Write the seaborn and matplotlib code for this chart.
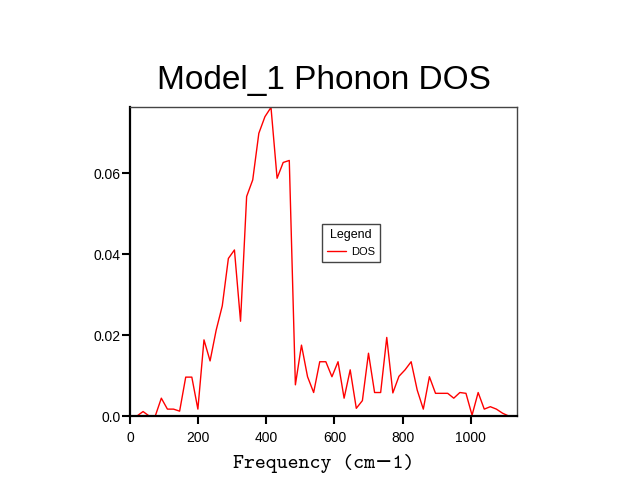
import numpy as np
import pandas as pd
import seaborn as sns
import matplotlib.pyplot as plt

# data
freq = [20.5, 38.4, 56.3, 74.2, 92.0, 109.9, 127.8, 145.7, 163.6, 181.5,
        199.3, 217.2, 235.1, 253.0, 270.9, 288.8, 306.6, 324.5, 342.4, 360.3,
        378.2, 396.1, 413.9, 431.8, 449.7, 467.6, 485.5, 503.4, 521.2, 539.1,
        557.0, 574.9, 592.8, 610.7, 628.5, 646.4, 664.3, 682.2, 700.1, 718.0,
        735.8, 753.7, 771.6, 789.5, 807.4, 825.3, 843.1, 861.0, 878.9, 896.8,
        914.7, 932.6, 950.4, 968.3, 986.2, 1004.1, 1022.0, 1039.9, 1057.7, 1075.6,
        1093.5, 1111.4]
dos = [0.0, 0.0011, 0.0, 0.0, 0.0044, 0.0017, 0.0017, 0.0012, 0.0096, 0.0096,
       0.0017, 0.0188, 0.0136, 0.0212, 0.0272, 0.0389, 0.0410, 0.0234, 0.0542, 0.0583,
       0.0698, 0.0739, 0.0762, 0.0587, 0.0626, 0.0631, 0.0077, 0.0175, 0.0097, 0.0058,
       0.0134, 0.0134, 0.0097, 0.0134, 0.0044, 0.0114, 0.0019, 0.0038, 0.0155, 0.0058,
       0.0058, 0.0194, 0.0057, 0.0098, 0.0114, 0.0134, 0.0064, 0.0017, 0.0097, 0.0056,
       0.0056, 0.0056, 0.0044, 0.0058, 0.0056, 0.0002, 0.0058, 0.0017, 0.0023, 0.0017,
       0.0007, 0.0]

xticks = [0, 200, 400, 600, 800, 1000]
yticks = [0.0, 0.02, 0.04, 0.06]
ytick_labels = ["0.0", "0.02", "0.04", "0.06"]

df = pd.DataFrame({"Frequency": freq, "DOS": dos})

sns.set_style("ticks")
plt.rcParams['font.family'] = ['Liberation Sans', 'DejaVu Sans']
plt.rcParams['text.color'] = 'black'
plt.rcParams['axes.labelcolor'] = 'black'
plt.rcParams['xtick.color'] = 'black'
plt.rcParams['ytick.color'] = 'black'

fig = plt.figure(figsize=(6.4, 4.83), dpi=100)
ax = fig.add_axes([0.2031, 0.1387, 0.6047, 0.6398])

sns.lineplot(data=df, x="Frequency", y="DOS", color="red", lw=1,
             label="DOS", ax=ax)

ax.set_xlim(0, 1136)
ax.set_ylim(0, 0.0763)
ax.set_xticks(xticks)
ax.set_xticklabels([str(t) for t in xticks])
ax.set_yticks(yticks)
ax.set_yticklabels(ytick_labels)
ax.tick_params(axis='both', labelsize=10, width=1.5, length=6,
               color='black', labelcolor='black')
ax.tick_params(axis='y', pad=1)
ax.tick_params(axis='x', pad=5)

for s in ['left', 'bottom']:
    ax.spines[s].set_color('black')
    ax.spines[s].set_linewidth(1.6)
for s in ['top', 'right']:
    ax.spines[s].set_color('#444444')
    ax.spines[s].set_linewidth(1.0)

ax.set_title("Model_1 Phonon DOS", fontsize=24, pad=13, color='black')
ax.set_xlabel("Frequency (cm\u22121)", family=['cmtt10', 'DejaVu Sans'],
              fontsize=15, labelpad=6, color='black')
ax.set_ylabel("")

leg = ax.legend(title="Legend", loc="upper left", bbox_to_anchor=(0.496, 0.621),
                borderaxespad=0, fontsize=8, title_fontsize=9,
                fancybox=False, frameon=True, handlelength=1.7,
                borderpad=0.45, handletextpad=0.5, labelcolor='black')
leg.get_title().set_color('black')
leg.get_frame().set_edgecolor('#444444')
leg.get_frame().set_linewidth(1.0)
leg.get_frame().set_alpha(1)

fig.savefig("out.png", dpi=100)
